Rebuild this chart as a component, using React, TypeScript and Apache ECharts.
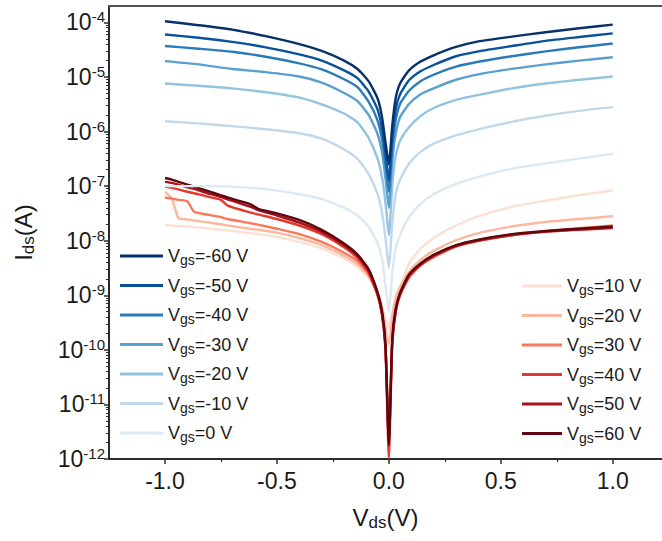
import React, { useEffect, useRef } from "react";
import * as echarts from "echarts";

// Vds sweep points (V)
const vdsBlue = [-1, -0.85, -0.7, -0.55, -0.4, -0.3, -0.2, -0.14, -0.09, -0.05, -0.03, -0.015, 0, 0.015, 0.03, 0.05, 0.09, 0.14, 0.2, 0.3, 0.4, 0.55, 0.7, 0.85, 1];
const vdsRed = [-1, -0.97, -0.94, -0.9, -0.87, -0.8, -0.75, -0.72, -0.62, -0.58, -0.5, -0.4, -0.3, -0.2, -0.14, -0.09, -0.05, -0.03, -0.015, 0, 0.015, 0.03, 0.05, 0.09, 0.14, 0.2, 0.3, 0.4, 0.55, 0.7, 0.85, 1];

// Ids (A) for negative / zero gate voltages (on vdsBlue)
const idsM60 = [1.05e-4, 8.9e-5, 7.4e-5, 5.6e-5, 4.0e-5, 3.0e-5, 2.0e-5, 1.4e-5, 8.3e-6, 4.0e-6, 1.8e-6, 6.3e-7, 2.5e-7, 1.26e-6, 4.0e-6, 7.6e-6, 1.32e-5, 1.9e-5, 2.5e-5, 3.55e-5, 4.5e-5, 5.5e-5, 6.6e-5, 7.8e-5, 9.1e-5];
const idsM50 = [6.0e-5, 5.25e-5, 4.4e-5, 3.5e-5, 2.6e-5, 2.0e-5, 1.32e-5, 9.5e-6, 5.4e-6, 2.5e-6, 1.12e-6, 4.0e-7, 1.26e-7, 7.9e-7, 2.5e-6, 4.8e-6, 8.7e-6, 1.26e-5, 1.66e-5, 2.4e-5, 2.95e-5, 3.7e-5, 4.6e-5, 5.4e-5, 6.3e-5];
const idsM40 = [3.7e-5, 3.3e-5, 2.9e-5, 2.35e-5, 1.78e-5, 1.38e-5, 9.1e-6, 6.5e-6, 3.5e-6, 1.58e-6, 7.1e-7, 2.5e-7, 7.9e-8, 5.0e-7, 1.58e-6, 3.2e-6, 5.6e-6, 8.3e-6, 1.1e-5, 1.55e-5, 1.9e-5, 2.4e-5, 2.95e-5, 3.5e-5, 4.1e-5];
const idsM30 = [1.95e-5, 1.7e-5, 1.4e-5, 1.23e-5, 1.02e-5, 7.9e-6, 5.1e-6, 3.6e-6, 2.0e-6, 8.9e-7, 4.0e-7, 1.41e-7, 4.0e-8, 2.8e-7, 8.9e-7, 1.82e-6, 3.2e-6, 4.8e-6, 6.2e-6, 8.9e-6, 1.12e-5, 1.41e-5, 1.7e-5, 2.0e-5, 2.3e-5];
const idsM20 = [7.6e-6, 6.9e-6, 6.2e-6, 5.25e-6, 4.2e-6, 3.16e-6, 2.14e-6, 1.48e-6, 7.6e-7, 3.16e-7, 1.41e-7, 5.0e-8, 1.26e-8, 1.0e-7, 3.55e-7, 6.8e-7, 1.2e-6, 1.9e-6, 2.7e-6, 3.8e-6, 4.7e-6, 6.2e-6, 7.6e-6, 8.9e-6, 1.02e-5];
const idsM10 = [1.55e-6, 1.41e-6, 1.26e-6, 1.1e-6, 9.3e-7, 7.4e-7, 4.7e-7, 3.16e-7, 1.66e-7, 7.1e-8, 3.16e-8, 1.12e-8, 3.16e-9, 2.0e-8, 7.1e-8, 1.32e-7, 2.6e-7, 4.2e-7, 6.0e-7, 8.5e-7, 1.1e-6, 1.51e-6, 1.95e-6, 2.4e-6, 2.8e-6];
const ids0 = [1.0e-7, 1.0e-7, 9.8e-8, 8.8e-8, 7.1e-8, 5.8e-8, 4.0e-8, 2.9e-8, 1.8e-8, 9.0e-9, 4.5e-9, 1.5e-9, 5.0e-10, 2.5e-9, 7.1e-9, 1.26e-8, 2.7e-8, 4.7e-8, 7.1e-8, 1.1e-7, 1.48e-7, 2.1e-7, 2.6e-7, 3.2e-7, 3.9e-7];

// Ids (A) for positive gate voltages (on vdsRed)
const idsP10 = [1.95e-8, 1.9e-8, 1.86e-8, 1.82e-8, 1.78e-8, 1.66e-8, 1.58e-8, 1.55e-8, 1.38e-8, 1.32e-8, 1.17e-8, 9.5e-9, 7.2e-9, 4.7e-9, 3.3e-9, 2.1e-9, 1.12e-9, 6.3e-10, 3.55e-10, 2.5e-10, 5.0e-10, 7.9e-10, 1.41e-9, 3.8e-9, 7.1e-9, 1.12e-8, 1.9e-8, 2.8e-8, 4.2e-8, 5.4e-8, 6.8e-8, 8.3e-8];
const idsP20 = [7.8e-8, 6.0e-8, 2.6e-8, 2.45e-8, 2.35e-8, 2.14e-8, 2.0e-8, 1.9e-8, 1.66e-8, 1.58e-8, 1.41e-8, 1.12e-8, 8.3e-9, 5.25e-9, 3.7e-9, 2.24e-9, 1.12e-9, 5.6e-10, 2.5e-10, 1.26e-10, 4.0e-10, 8.9e-10, 1.41e-9, 2.7e-9, 4.4e-9, 6.5e-9, 1.02e-8, 1.38e-8, 1.82e-8, 2.2e-8, 2.5e-8, 2.8e-8];
const idsP30 = [6.2e-8, 5.9e-8, 5.6e-8, 5.25e-8, 3.4e-8, 2.95e-8, 2.7e-8, 2.5e-8, 2.1e-8, 1.95e-8, 1.66e-8, 1.32e-8, 9.5e-9, 6.0e-9, 4.2e-9, 2.4e-9, 1.0e-9, 4.5e-10, 1.12e-10, 3.2e-12, 1.26e-10, 5.0e-10, 1.0e-9, 2.1e-9, 3.5e-9, 5.0e-9, 7.8e-9, 1.0e-8, 1.26e-8, 1.48e-8, 1.7e-8, 1.9e-8];
const idsP40 = [9.8e-8, 9.3e-8, 8.7e-8, 7.9e-8, 7.4e-8, 6.3e-8, 5.6e-8, 4.4e-8, 3.3e-8, 3.0e-8, 2.5e-8, 1.9e-8, 1.32e-8, 7.6e-9, 4.8e-9, 2.6e-9, 1.0e-9, 4.2e-10, 1.0e-10, 1.05e-12, 1.26e-10, 4.8e-10, 1.02e-9, 2.2e-9, 3.55e-9, 5.1e-9, 7.9e-9, 1.0e-8, 1.26e-8, 1.45e-8, 1.58e-8, 1.7e-8];
const idsP50 = [1.2e-7, 1.15e-7, 1.07e-7, 9.5e-8, 8.9e-8, 7.2e-8, 6.3e-8, 5.75e-8, 4.2e-8, 3.6e-8, 2.9e-8, 2.14e-8, 1.45e-8, 8.3e-9, 5.25e-9, 2.8e-9, 1.05e-9, 4.5e-10, 1.12e-10, 2.0e-12, 1.41e-10, 5.0e-10, 1.07e-9, 2.3e-9, 3.6e-9, 5.4e-9, 8.1e-9, 1.02e-8, 1.29e-8, 1.48e-8, 1.62e-8, 1.74e-8];
const idsP60 = [1.41e-7, 1.32e-7, 1.2e-7, 1.07e-7, 9.8e-8, 7.9e-8, 6.8e-8, 6.2e-8, 4.7e-8, 3.8e-8, 3.16e-8, 2.4e-8, 1.58e-8, 8.9e-9, 5.6e-9, 3.0e-9, 1.12e-9, 5.0e-10, 1.26e-10, 1.78e-12, 1.58e-10, 5.6e-10, 1.12e-9, 2.4e-9, 3.8e-9, 5.5e-9, 8.3e-9, 1.05e-8, 1.32e-8, 1.51e-8, 1.66e-8, 1.82e-8];

// Series labels
const blueNames = ["Vgs=-60 V", "Vgs=-50 V", "Vgs=-40 V", "Vgs=-30 V", "Vgs=-20 V", "Vgs=-10 V", "Vgs=0 V"];
const redNames = ["Vgs=10 V", "Vgs=20 V", "Vgs=30 V", "Vgs=40 V", "Vgs=50 V", "Vgs=60 V"];
const blueValues = [idsM60, idsM50, idsM40, idsM30, idsM20, idsM10, ids0];
const redValues = [idsP10, idsP20, idsP30, idsP40, idsP50, idsP60];
const blueColors = ["#08306b", "#08519c", "#2b7bba", "#5aa0cf", "#92c3e0", "#c0d8ec", "#dbe9f5"];
const redColors = ["#fde0d2", "#fcb89e", "#f8785a", "#e5392c", "#a8101a", "#5f0710"];

// Tick labels
const xTickLabels = [-1, -0.5, 0, 0.5, 1];
const xMinorTicks = [-0.75, -0.25, 0.25, 0.75];
const yTickExponents = [-12, -11, -10, -9, -8, -7, -6, -5, -4];

const FONT = "'Liberation Sans', Arial, Helvetica, sans-serif";
const TEXT = "#1a1a1a";
const AXIS = "#2b2b2b";
const X_MIN = -1.25;
const X_MAX = 1.22;
const Y_MIN = -12;
const Y_MAX = Math.log10(2e-4);

const yMinorTicks: number[] = [];
for (let n = -12; n < -4; n++) {
  for (let k = 2; k <= 9; k++) yMinorTicks.push(n + Math.log10(k));
}

const legendFmt = (name: string) => `{v|V}{s|gs}{v|${name.substring(3)}}`;
const legendText = {
  fontFamily: FONT,
  color: TEXT,
  rich: {
    v: { fontFamily: FONT, fontSize: 18, lineHeight: 22, color: TEXT },
    s: { fontFamily: FONT, fontSize: 14, lineHeight: 6, verticalAlign: "bottom", color: TEXT },
  },
};

export default function App() {
  const ref = useRef<HTMLDivElement>(null);
  useEffect(() => {
    if (!ref.current) return;
    const chart = echarts.init(ref.current, null, { renderer: "svg" });

    const makeSeries = (name: string, color: string, vds: number[], ids: number[]) => ({
      name,
      type: "line",
      xAxisIndex: 0,
      yAxisIndex: 0,
      data: vds.map((v, i) => [v, Math.log10(ids[i])]),
      showSymbol: false,
      symbol: "none",
      smooth: 0.18,
      color,
      lineStyle: { color, width: 2.4 },
      emphasis: { disabled: true },
    });

    const series: any[] = [];
    redNames.forEach((n, i) => series.push(makeSeries(n, redColors[i], vdsRed, redValues[i])));
    for (let i = blueNames.length - 1; i >= 0; i--) {
      series.push(makeSeries(blueNames[i], blueColors[i], vdsBlue, blueValues[i]));
    }

    const option: any = {
      animation: false,
      backgroundColor: "#ffffff",
      grid: { left: 109, right: 0, top: 6, bottom: 82, containLabel: false, outerBoundsMode: "none" },
      legend: [
        {
          orient: "vertical", left: 120, top: 247, padding: 0, itemGap: 9.5,
          itemWidth: 43, itemHeight: 3, icon: "rect", selectedMode: false,
          data: blueNames, formatter: legendFmt, textStyle: legendText,
        },
        {
          orient: "vertical", left: 522, top: 277, padding: 0, itemGap: 9.5,
          itemWidth: 40, itemHeight: 3, icon: "rect", selectedMode: false,
          data: redNames, formatter: legendFmt, textStyle: legendText,
        },
      ],
      xAxis: [
        {
          type: "value", position: "bottom", min: X_MIN, max: X_MAX,
          axisLine: { show: true, onZero: false, lineStyle: { color: AXIS, width: 2 } },
          axisTick: { show: true, customValues: xTickLabels, length: 5, lineStyle: { color: AXIS, width: 1.5 } },
          axisLabel: {
            customValues: xTickLabels, margin: 10, fontSize: 23, fontFamily: FONT, color: TEXT,
            formatter: (v: number) => v.toFixed(1),
          },
          splitLine: { show: false },
          name: "{a|V}{b|ds}{a|(V)}",
          nameLocation: "middle",
          nameGap: 44,
          nameTextStyle: {
            rich: {
              a: { fontFamily: FONT, fontSize: 24, lineHeight: 28, color: TEXT },
              b: { fontFamily: FONT, fontSize: 17, lineHeight: 8, verticalAlign: "bottom", color: TEXT },
            },
          },
        },
        {
          type: "value", position: "bottom", min: X_MIN, max: X_MAX,
          axisLine: { show: false, onZero: false },
          axisTick: { show: true, customValues: xMinorTicks, length: 3, lineStyle: { color: AXIS, width: 1.2 } },
          axisLabel: { show: false },
          splitLine: { show: false },
        },
        {
          type: "value", position: "top", min: X_MIN, max: X_MAX,
          axisLine: { show: true, onZero: false, lineStyle: { color: "#555555", width: 2 } },
          axisTick: { show: false },
          axisLabel: { show: false },
          splitLine: { show: false },
        },
      ],
      yAxis: [
        {
          type: "value", position: "left", min: Y_MIN, max: Y_MAX,
          axisLine: { show: true, onZero: false, lineStyle: { color: AXIS, width: 2 } },
          axisTick: { show: true, customValues: yTickExponents, length: 5, lineStyle: { color: AXIS, width: 1.5 } },
          axisLabel: {
            customValues: yTickExponents, margin: 4,
            formatter: (v: number) => `{b|10}{s|${Math.round(v)}}`,
            rich: {
              b: { fontFamily: FONT, fontSize: 23, lineHeight: 26, color: TEXT },
              s: { fontFamily: FONT, fontSize: 15, lineHeight: 14, verticalAlign: "top", color: TEXT },
            },
          },
          splitLine: { show: false },
          name: "{a|I}{b|ds}{a|(A)}",
          nameLocation: "middle",
          nameRotate: 90,
          nameGap: 72,
          nameTextStyle: {
            rich: {
              a: { fontFamily: FONT, fontSize: 24, lineHeight: 28, color: TEXT },
              b: { fontFamily: FONT, fontSize: 17, lineHeight: 8, verticalAlign: "bottom", color: TEXT },
            },
          },
        },
        {
          type: "value", position: "left", min: Y_MIN, max: Y_MAX,
          axisLine: { show: false, onZero: false },
          axisTick: { show: true, customValues: yMinorTicks, length: 3, lineStyle: { color: AXIS, width: 1 } },
          axisLabel: { show: false },
          splitLine: { show: false },
        },
      ],
      series,
    };
    chart.setOption(option);
    return () => chart.dispose();
  }, []);

  return (
    <div
      ref={ref}
      style={{ position: "fixed", left: 0, top: 0, width: 662, height: 541, background: "#ffffff" }}
    />
  );
}
